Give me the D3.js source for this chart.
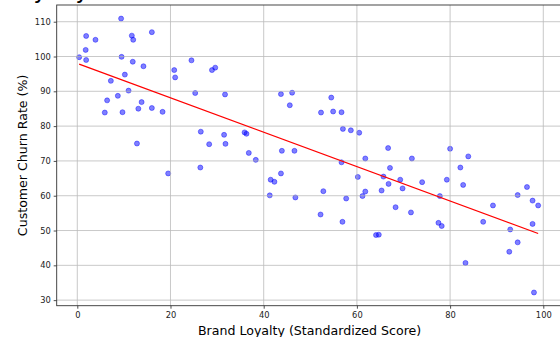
<!DOCTYPE html>
<html>
<head>
<meta charset="utf-8">
<script src="https://cdn.jsdelivr.net/npm/d3@7"></script>
<style>
  html, body { margin: 0; padding: 0; background: #fff; }
  svg { display: block; font-family: "DejaVu Sans", sans-serif; }
</style>
</head>
<body>
<svg id="chart" width="560" height="337"></svg>
<script>
// values
const loyalty = [
  9.4, 1.9, 3.9, 11.7, 12.0, 16.0, 1.8, 0.4, 1.9, 9.5, 11.9, 14.2, 10.2, 7.2, 11.0, 8.7, 6.4,
  13.8, 5.9, 9.7, 13.1, 16.0, 18.3, 12.8, 20.8, 21.0, 24.5, 28.9, 29.6, 25.3, 31.7, 26.5, 31.5,
  28.3, 31.8, 35.9, 36.3, 36.8, 38.3, 26.4, 19.5, 43.7, 46.1, 45.6, 43.9, 46.6, 43.7, 41.5, 42.3,
  41.3, 46.8,
  54.5, 52.3, 54.9, 56.7, 57.0, 58.7, 60.5, 66.7, 80.0, 83.9, 61.8, 71.8, 82.2, 56.7, 67.1, 60.2,
  65.7, 69.3, 79.3, 66.8, 74.0, 69.8, 82.8, 52.8, 61.8, 65.3, 61.2, 57.7, 77.8, 96.5, 94.5, 97.7,
  98.9, 89.2, 68.3, 52.2, 71.6, 56.9, 87.1, 77.5, 78.2, 92.9, 97.7, 64.1, 64.7, 94.5, 92.7, 83.3,
  98.0
];
const churn = [
  110.9, 105.9, 104.8, 106.0, 104.8, 107.0, 101.9, 99.8, 99.0, 99.9, 98.5, 97.2, 94.8, 93.0, 90.2, 88.7, 87.4,
  86.9, 83.9, 84.0, 85.0, 85.2, 84.1, 75.0, 96.1, 94.0, 98.9, 96.1, 96.8, 89.5, 89.1, 78.4, 77.5,
  74.8, 74.9, 78.2, 77.8, 72.3, 70.3, 68.1, 66.4, 89.2, 89.6, 86.0, 72.9, 72.9, 66.4, 64.6, 64.0,
  60.1, 59.5,
  88.2, 83.9, 84.2, 84.0, 79.2, 78.8, 78.1, 73.7, 73.5, 71.3, 70.7, 70.7, 68.1, 69.6, 68.0, 65.4,
  65.5, 64.6, 64.6, 63.4, 63.9, 62.1, 63.1, 61.3, 61.2, 61.5, 59.9, 59.2, 59.9, 62.5, 60.2, 58.6,
  57.2, 57.2, 56.7, 54.6, 55.2, 52.5, 52.5, 52.2, 51.3, 50.3, 51.9, 48.7, 48.8, 46.6, 43.9, 40.7,
  32.2
];
// fitted trend line
const trendIntercept = 98.0;
const trendSlope = -0.494;

const xTicks = [0, 20, 40, 60, 80, 100];
const yTicks = [30, 40, 50, 60, 70, 80, 90, 100, 110];

const titleText = "Brand Loyalty vs. Customer Churn Rate";
const xLabel = "Brand Loyalty (Standardized Score)";
const yLabel = "Customer Churn Rate (%)";

let data = loyalty.map((d, i) => ({x: d, y: churn[i]}));

// plot box
let plotLeft = 56.7, plotRight = 562.4, plotTop = 5, plotBottom = 305.7;

let xScale = d3.scaleLinear().domain([-4.42, 104.1]).range([plotLeft, plotRight]);
let yScale = d3.scaleLinear().domain([28.4, 114.8]).range([plotBottom, plotTop]);

let svg = d3.select("#chart");

// title, mostly above the visible area
svg.append("text")
  .attr("x", -66)
  .attr("y", -2.3)
  .attr("font-size", "22.4px")
  .attr("fill", "#000")
  .text(titleText);

// points
svg.append("g")
  .selectAll("circle")
  .data(data)
  .join("circle")
  .attr("cx", d => xScale(d.x))
  .attr("cy", d => yScale(d.y))
  .attr("r", 2.5)
  .attr("fill", "blue")
  .attr("fill-opacity", 0.5)
  .attr("stroke", "blue")
  .attr("stroke-opacity", 0.5)
  .attr("stroke-width", 0.85);

// grid
let grid = svg.append("g").attr("stroke", "#b0b0b0").attr("stroke-width", 0.8).attr("opacity", 0.85);
grid.selectAll("line.gx")
  .data(xTicks)
  .join("line")
  .attr("class", "gx")
  .attr("x1", d => xScale(d)).attr("x2", d => xScale(d))
  .attr("y1", plotTop).attr("y2", plotBottom);
grid.selectAll("line.gy")
  .data(yTicks)
  .join("line")
  .attr("class", "gy")
  .attr("x1", plotLeft).attr("x2", plotRight)
  .attr("y1", d => yScale(d)).attr("y2", d => yScale(d));

// trend line
let xMin = d3.min(loyalty), xMax = d3.max(loyalty);
let lineGen = d3.line()
  .x(d => xScale(d))
  .y(d => yScale(trendIntercept + trendSlope * d));
svg.append("path")
  .attr("d", lineGen([xMin, xMax]))
  .attr("fill", "none")
  .attr("stroke", "red")
  .attr("stroke-width", 1.3);

// axes
let xAxis = d3.axisBottom(xScale).tickValues(xTicks).tickSize(3).tickPadding(3).tickFormat(d3.format("d"));
let yAxis = d3.axisLeft(yScale).tickValues(yTicks).tickSize(3).tickPadding(3).tickFormat(d3.format("d"));

let gx = svg.append("g")
  .attr("transform", "translate(0," + plotBottom + ")")
  .call(xAxis);
let gy = svg.append("g")
  .attr("transform", "translate(" + plotLeft + ",0)")
  .call(yAxis);
for (let g of [gx, gy]) {
  g.select(".domain").remove();
  g.selectAll(".tick line").attr("stroke", "#222").attr("stroke-width", 0.8);
  g.selectAll(".tick text")
    .attr("fill", "#222")
    .attr("font-size", "8.3px")
    .attr("font-family", "DejaVu Sans, sans-serif");
}

// spines
svg.append("rect")
  .attr("x", plotLeft).attr("y", plotTop)
  .attr("width", plotRight - plotLeft).attr("height", plotBottom - plotTop)
  .attr("fill", "none")
  .attr("stroke", "#333")
  .attr("stroke-width", 0.9);

// axis labels
svg.append("text")
  .attr("x", (plotLeft + plotRight) / 2)
  .attr("y", 335.2)
  .attr("text-anchor", "middle")
  .attr("font-size", "12.6px")
  .text(xLabel);
svg.append("text")
  .attr("transform", "translate(26.6," + ((plotTop + plotBottom) / 2) + ") rotate(-90)")
  .attr("text-anchor", "middle")
  .attr("font-size", "12.6px")
  .text(yLabel);
</script>
</body>
</html>
